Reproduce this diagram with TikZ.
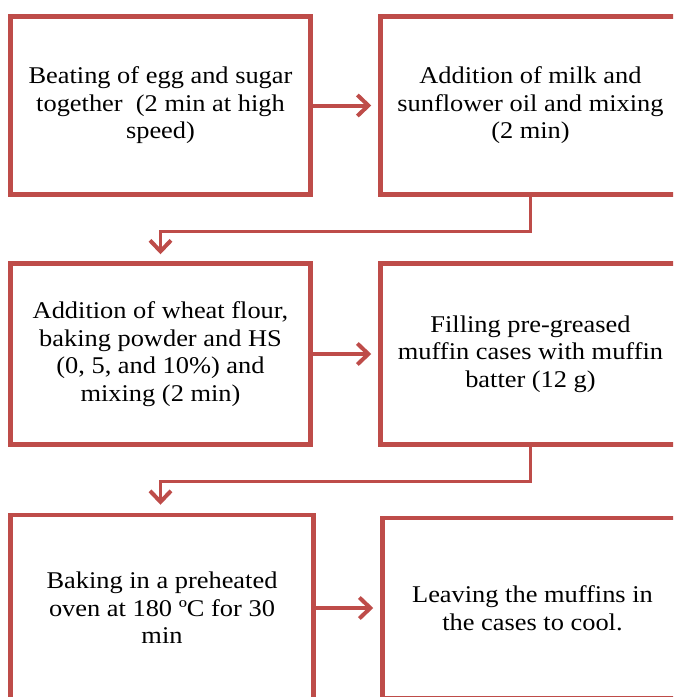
\documentclass[tikz,border=0pt]{standalone}
\usepackage{fontspec}
\setmainfont{Liberation Serif}[FakeStretch=1.1]
\usetikzlibrary{arrows.meta}
\definecolor{boxred}{RGB}{190,76,73}

\begin{document}
\begin{tikzpicture}[x=1pt,y=-1pt,
    stage/.style = {draw=boxred, line width=4.5pt, fill=white,
                minimum width=#1, minimum height=180pt,
                inner sep=0pt, align=center,
                font=\fontsize{24}{27.5}\selectfont},
    stage/.default = 300pt,
    next/.style = {draw=boxred, line width=4pt,
                -{Straight Barb[length=11pt,width=21pt,line width=4pt]},
                shorten >=7pt},
    down/.style = {draw=boxred, line width=3pt,
                -{Straight Barb[length=11pt,width=21pt,line width=4pt]}}
                    ]
    \useasboundingbox (0,0) rectangle (673,697);
    \clip (0,0) rectangle (673,697);
    \def\lx{160.5}
    \def\rx{530.5}
    \node[stage, minimum height=178pt] at (\lx,105.5) (b1) {Beating of egg and sugar\\together\ \ (2 min at high\\speed)};
    \node[stage, minimum height=178pt] at (\rx,105.5) (b2) {Addition of milk and\\sunflower oil and mixing\\(2 min)};
    \node[stage, minimum height=181pt] at (\lx,354) (b3) {Addition of wheat flour,\\baking powder and HS\\(0, 5, and 10\%) and\\mixing (2 min)};
    \node[stage, minimum height=181pt] at (\rx,354) (b4) {Filling pre-greased\\muffin cases with muffin\\batter (12 g)};
    \node[stage=303pt, minimum height=186pt] at (162,608) (b5) {Baking in a preheated\\oven at 180 ºC for 30\\min};
    \node[stage] at (532.5,608) (b6) {Leaving the muffins in\\the cases to cool.};
    \draw[next] (b1) -- (b2);
    \draw[next] (b3) -- (b4);
    \draw[next] (b5) -- (b6);
    \draw[down, shorten >=7pt] (b2.south) -- ++(0,34.5) -| (b3.north);
    \draw[down, shorten >=8pt] (b4.south) -- ++(0,35) -| ([xshift=-1.5pt]b5.north);
\end{tikzpicture}
\end{document}
